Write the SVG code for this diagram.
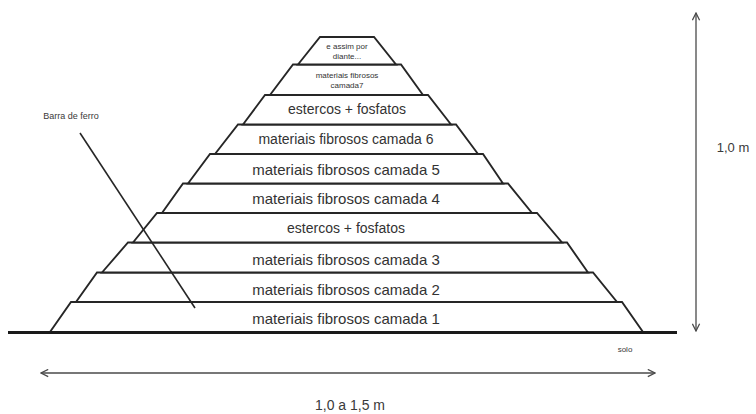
<svg xmlns="http://www.w3.org/2000/svg" width="756" height="414" viewBox="0 0 756 414">
  <defs>
    <style>
      .layer { fill: #ffffff; stroke: #262626; stroke-width: 1.9; stroke-linejoin: miter; }
      .lbl { font-family: "Liberation Sans", Arial, sans-serif; fill: #333333; text-anchor: middle; dominant-baseline: central; }
      .big { font-size: 15px; }
      .mid { font-size: 14px; }
      .tiny { font-size: 8px; }
      .note { font-family: "Liberation Sans", Arial, sans-serif; fill: #3a3a3a; }
      .dim { stroke: #4a4a4a; stroke-width: 1.3; fill: none; }
    </style>
    <marker id="open-head" viewBox="0 0 10 10" refX="9" refY="5" markerWidth="9" markerHeight="9" orient="auto-start-reverse" markerUnits="userSpaceOnUse">
      <path d="M1,1 L9,5 L1,9" fill="none" stroke="#4a4a4a" stroke-width="1.4"/>
    </marker>
  </defs>

  <rect width="756" height="414" fill="#ffffff"/>

  <!-- pyramid layers, bottom to top -->
  <g id="layer-1">
    <polygon class="layer" points="50,332 71,302 622,302 643,332"/>
    <text class="lbl big" x="346" y="318">materiais fibrosos camada 1</text>
  </g>
  <g id="layer-2">
    <polygon class="layer" points="76,302 97,272.5 593,272.5 617,302"/>
    <text class="lbl big" x="346" y="289">materiais fibrosos camada 2</text>
  </g>
  <g id="layer-3">
    <polygon class="layer" points="102,272.5 128,242.5 567,242.5 588,272.5"/>
    <text class="lbl big" x="346" y="259">materiais fibrosos camada 3</text>
  </g>
  <g id="layer-estercos-1">
    <polygon class="layer" points="133,242.5 157,213 537,213 562,242.5"/>
    <text class="lbl mid" x="346" y="228">estercos + fosfatos</text>
  </g>
  <g id="layer-4">
    <polygon class="layer" points="162,213 183,183.5 508,183.5 532,213"/>
    <text class="lbl big" x="346" y="198">materiais fibrosos camada 4</text>
  </g>
  <g id="layer-5">
    <polygon class="layer" points="188,183.5 210,154 483,154 503,183.5"/>
    <text class="lbl big" x="346" y="169">materiais fibrosos camada 5</text>
  </g>
  <g id="layer-6">
    <polygon class="layer" points="215,154 238,124.5 456,124.5 478,154"/>
    <text class="lbl mid" x="346" y="139">materiais fibrosos camada 6</text>
  </g>
  <g id="layer-estercos-2">
    <polygon class="layer" points="243,124.5 265,95 428,95 451,124.5"/>
    <text class="lbl mid" x="347" y="109">estercos + fosfatos</text>
  </g>
  <g id="layer-7">
    <polygon class="layer" points="270,95 293,64.5 401,64.5 423,95"/>
    <text class="lbl tiny" x="347" y="75">materiais fibrosos</text>
    <text class="lbl tiny" x="347" y="85">camada7</text>
  </g>
  <g id="layer-top">
    <polygon class="layer" points="298,64.5 320,37 374,37 396,64.5"/>
    <text class="lbl tiny" x="347" y="46">e assim por</text>
    <text class="lbl tiny" x="347" y="56">diante...</text>
  </g>

  <!-- ground -->
  <g id="ground">
    <line x1="8" y1="332.5" x2="677" y2="332.5" stroke="#1a1a1a" stroke-width="3"/>
    <text class="note" x="625" y="352" font-size="8" text-anchor="middle">solo</text>
  </g>

  <!-- iron bar -->
  <g id="iron-bar">
    <line x1="80" y1="133" x2="195" y2="308" stroke="#262626" stroke-width="1.6"/>
    <text class="note" x="71" y="119" font-size="9" text-anchor="middle">Barra de ferro</text>
  </g>

  <!-- dimension arrows -->
  <g id="connectors">
    <line class="dim" x1="696" y1="13" x2="696" y2="331" marker-start="url(#open-head)" marker-end="url(#open-head)"/>
    <line class="dim" x1="41" y1="373" x2="655" y2="373" marker-start="url(#open-head)" marker-end="url(#open-head)"/>
  </g>

  <g id="height-label">
    <text class="note" x="733" y="147" font-size="13" text-anchor="middle" dominant-baseline="central">1,0 m</text>
  </g>
  <g id="width-label">
    <text class="note" x="350" y="405" font-size="14" text-anchor="middle" dominant-baseline="central">1,0 a 1,5 m</text>
  </g>
</svg>
